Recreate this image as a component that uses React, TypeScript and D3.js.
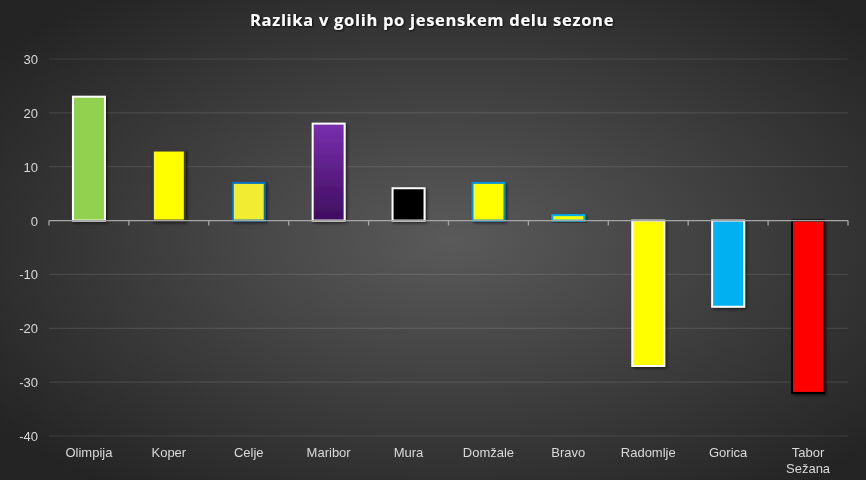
import * as d3 from 'd3';
import React from 'react';

// chart data
const teams = ['Olimpija', 'Koper', 'Celje', 'Maribor', 'Mura', 'Domžale', 'Bravo', 'Radomlje', 'Gorica', 'Tabor Sežana'];
const goalDiff = [23, 13, 7, 18, 6, 7, 1, -27, -16, -32];
const fills = ['#92D050', '#FFFF00', '#F2EC30', 'url(#purpleGrad)', '#000000', '#FFFF00', '#FFFF00', '#FFFF00', '#00B0F0', '#FF0000'];
const strokes = ['#FFFFFF', '#3a3a3a', '#0070C0', '#FFFFFF', '#FFFFFF', '#0090E0', '#00B0F0', '#FFFFFF', '#FFFFFF', '#000000'];
const yTicks = [30, 20, 10, 0, -10, -20, -30, -40];

const W = 866;
const H = 480;
const margin = { top: 59, right: 18, bottom: 44, left: 49 };

const App: React.FC = () => {
    const x = d3.scaleBand().domain(teams).range([margin.left, W - margin.right]).paddingInner(0.6).paddingOuter(0.3);
    const y = d3.scaleLinear().domain([-40, 30]).range([H - margin.bottom, margin.top]);
    const step = x.step();
    const x0 = margin.left;
    const x1 = W - margin.right;
    const labelFont = 'Liberation Sans, Arial, sans-serif';

    return (
        <svg width={W} height={H} style={{ position: 'fixed', left: 0, top: 0, display: 'block' }}>
            <defs>
                <radialGradient id="bg" cx="52%" cy="50%" r="65%">
                    <stop offset="0%" stopColor="#5a5a5a" />
                    <stop offset="100%" stopColor="#242424" />
                </radialGradient>
                <linearGradient id="purpleGrad" x1="0" y1="0" x2="0" y2="1">
                    <stop offset="0%" stopColor="#7A2FAE" />
                    <stop offset="100%" stopColor="#3E0E5E" />
                </linearGradient>
                <filter id="shadow" x="-30%" y="-30%" width="160%" height="160%">
                    <feDropShadow dx="1.5" dy="1.5" stdDeviation="1.5" floodColor="#000" floodOpacity="0.6" />
                </filter>
                <filter id="tshadow" x="-10%" y="-50%" width="120%" height="200%">
                    <feDropShadow dx="1" dy="1" stdDeviation="1" floodColor="#000" floodOpacity="0.8" />
                </filter>
            </defs>
            <rect x={0} y={0} width={W} height={H} fill="url(#bg)" />

            <text x={W / 2 - 1} y={26} textAnchor="middle" fill="#FFFFFF" fontSize={16.5} fontWeight="bold"
                fontFamily="Open Sans, sans-serif" letterSpacing="0.7" filter="url(#tshadow)">
                Razlika v golih po jesenskem delu sezone
            </text>

            {/* gridlines */}
            {yTicks.filter(t => t !== 0).map(t => (
                <line key={t} x1={x0} x2={x1} y1={y(t)} y2={y(t)} stroke="#FFFFFF" strokeOpacity={0.1} strokeWidth={1.2} />
            ))}
            {/* y labels */}
            {yTicks.map(t => (
                <text key={'l' + t} x={38} y={y(t) + 5} textAnchor="end" fill="#D9D9D9" fontSize={13}
                    fontFamily={labelFont}>{t}</text>
            ))}

            {/* bars */}
            {teams.map((t, i) => {
                const v = goalDiff[i];
                const top = y(Math.max(0, v));
                const h = Math.abs(y(v) - y(0));
                return (
                    <rect key={t} x={x(t)} y={top} width={x.bandwidth()} height={h}
                        fill={fills[i]} stroke={strokes[i]} strokeWidth={2} filter="url(#shadow)" />
                );
            })}

            {/* zero axis */}
            <line x1={x0} x2={x1} y1={y(0)} y2={y(0)} stroke="#A6A6A6" strokeWidth={1.3} />
            {d3.range(teams.length + 1).map(i => (
                <line key={'tk' + i} x1={x0 + i * step} x2={x0 + i * step} y1={y(0)} y2={y(0) + 5}
                    stroke="#A6A6A6" strokeWidth={1.3} />
            ))}

            {/* category labels */}
            {teams.map(t => {
                const cx = (x(t) ?? 0) + x.bandwidth() / 2;
                const parts = t === 'Tabor Sežana' ? ['Tabor', 'Sežana'] : [t];
                return (
                    <text key={'c' + t} x={cx} y={457} textAnchor="middle" fill="#D9D9D9" fontSize={13}
                        fontFamily={labelFont}>
                        {parts.map((p, j) => (
                            <tspan key={p} x={cx} dy={j === 0 ? 0 : 16}>{p}</tspan>
                        ))}
                    </text>
                );
            })}
        </svg>
    );
};

export default App;
